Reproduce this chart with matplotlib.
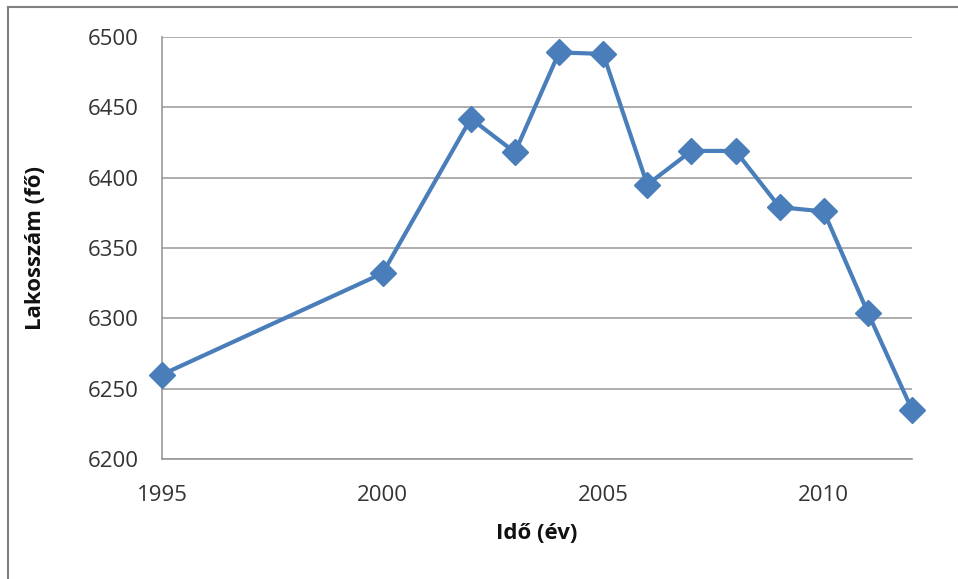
import matplotlib.pyplot as plt
from matplotlib.lines import Line2D

# Population by year
years = [1995, 2000, 2002, 2003, 2004, 2005, 2006, 2007, 2008, 2009, 2010, 2011, 2012]
population = [6260, 6332, 6442, 6418, 6489, 6488, 6395, 6419, 6419, 6379, 6376, 6304, 6235]

x_ticks = [1995, 2000, 2005, 2010]
y_ticks = [6200, 6250, 6300, 6350, 6400, 6450, 6500]

plt.rcParams['font.family'] = ['Open Sans', 'DejaVu Sans']

fig = plt.figure(figsize=(9.58, 5.79), dpi=100)
ax = fig.add_axes([0.1691, 0.2073, 0.7829, 0.7288])

ax.plot(years, population, color='#4a7ebb', linewidth=3, marker='D',
        markersize=13, markerfacecolor='#4a7ebb', markeredgecolor='#4a7ebb',
        clip_on=False, zorder=3)

ax.set_xlim(1995, 2012)
ax.set_ylim(6200, 6500)
ax.set_xticks(x_ticks)
ax.set_yticks(y_ticks)
ax.tick_params(length=0, labelsize=16, colors='#333333')
ax.tick_params(axis='y', pad=17)
ax.tick_params(axis='x', pad=19)
ax.grid(axis='y', color='#a0a0a0', linewidth=1.2)
ax.set_axisbelow(True)

for side in ('top', 'right'):
    ax.spines[side].set_visible(False)
for side in ('left', 'bottom'):
    ax.spines[side].set_color('#999999')
    ax.spines[side].set_linewidth(1.2)

ax.set_xlabel('Idő (év)', fontsize=16, fontweight='bold', labelpad=12, color='#111111')
ax.set_ylabel('Lakosszám (fő)', fontsize=16, fontweight='bold', labelpad=30, color='#111111')

# outer frame of the chart area
fig.add_artist(Line2D([8 / 958, 1], [1 - 7 / 579, 1 - 7 / 579],
                      transform=fig.transFigure, color='#808080', linewidth=1.5))
fig.add_artist(Line2D([8 / 958, 8 / 958], [0, 1 - 7 / 579],
                      transform=fig.transFigure, color='#808080', linewidth=1.5))

fig.savefig('out.png', dpi=100)
